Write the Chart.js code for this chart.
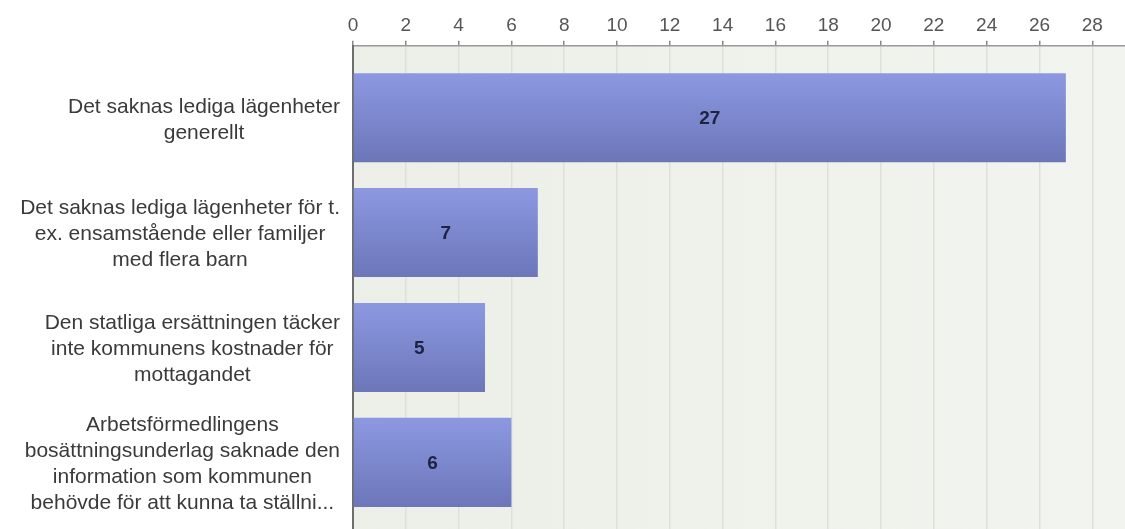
<!DOCTYPE html>
<html>
<head>
<meta charset="utf-8">
<script src="https://cdn.jsdelivr.net/npm/chart.js@4/dist/chart.umd.min.js"></script>
<style>
  html, body { margin: 0; padding: 0; background: #fff; }
  #wrap { width: 1125px; height: 529px; }
</style>
</head>
<body>
<div id="wrap"><canvas id="chart"></canvas></div>
<script>
const labels = [
  ["Det saknas lediga lägenheter", "generellt"],
  ["Det saknas lediga lägenheter för t.", "ex. ensamstående eller familjer", "med flera barn"],
  ["Den statliga ersättningen täcker", "inte kommunens kostnader för", "mottagandet"],
  ["Arbetsförmedlingens", "bosättningsunderlag saknade den", "information som kommunen", "behövde för att kunna ta ställni..."]
]
const values = [27, 7, 5, 6]
const xTicks = [0, 2, 4, 6, 8, 10, 12, 14, 16, 18, 20, 22, 24, 26, 28]

const FONT = '"Liberation Sans", Arial, sans-serif'

// plot background
const bgPlugin = {
  id: 'plotBg',
  beforeDraw(chart) {
    const { ctx, chartArea: a } = chart
    const g = ctx.createLinearGradient(a.left, 0, a.right, 0)
    g.addColorStop(0, '#ebefe7')
    g.addColorStop(1, '#f2f5ef')
    ctx.save()
    ctx.fillStyle = g
    ctx.fillRect(a.left, a.top, a.right - a.left, a.bottom - a.top)
    ctx.restore()
  }
}

// category labels: block right aligned, lines centred
const catLabels = {
  id: 'catLabels',
  afterDraw(chart) {
    const { ctx } = chart
    const y = chart.scales.y
    const right = 340
    const lh = 26
    ctx.save()
    ctx.font = '21px ' + FONT
    ctx.fillStyle = '#3a3a3a'
    ctx.textAlign = 'center'
    ctx.textBaseline = 'middle'
    labels.forEach((lines, i) => {
      const w = Math.max(...lines.map(l => ctx.measureText(l).width))
      const cx = right - w / 2
      const cy = y.getPixelForValue(i)
      const top = cy - (lines.length - 1) * lh / 2
      lines.forEach((l, j) => ctx.fillText(l, cx, top + j * lh + 2))
    })
    ctx.restore()
  }
}

// value in the middle of each bar
const valueLabels = {
  id: 'valueLabels',
  afterDatasetsDraw(chart) {
    const { ctx } = chart
    const meta = chart.getDatasetMeta(0)
    ctx.save()
    ctx.font = 'bold 19px ' + FONT
    ctx.fillStyle = '#1e2340'
    ctx.textAlign = 'center'
    ctx.textBaseline = 'middle'
    meta.data.forEach((bar, i) => {
      const p = bar.getCenterPoint()
      ctx.fillText(String(values[i]), p.x, p.y + 1)
    })
    ctx.restore()
  }
}

function barFill(c) {
  const chart = c.chart
  const ys = chart.scales.y
  if (!ys || !chart.chartArea || c.dataIndex === undefined) return '#7e8ad0'
  const mid = ys.getPixelForValue(c.dataIndex)
  const g = chart.ctx.createLinearGradient(0, mid - 45, 0, mid + 45)
  g.addColorStop(0, '#8c99e1')
  g.addColorStop(1, '#6c76b9')
  return g
}

new Chart(document.getElementById('chart'), {
  type: 'bar',
  data: {
    datasets: [{
      data: values.map((v, i) => ({ x: v, y: i })),
      backgroundColor: barFill,
      borderWidth: 0,
      categoryPercentage: 1,
      barPercentage: 0.775
    }]
  },
  plugins: [bgPlugin, catLabels, valueLabels],
  options: {
    indexAxis: 'y',
    responsive: true,
    maintainAspectRatio: false,
    animation: false,
    layout: { padding: { top: 10, left: 0, right: 0, bottom: 0 } },
    plugins: {
      legend: { display: false },
      tooltip: { enabled: false }
    },
    scales: {
      x: {
        type: 'linear',
        position: 'top',
        min: 0,
        max: 29.24,
        afterBuildTicks: s => { s.ticks = xTicks.map(v => ({ value: v })) },
        ticks: {
          font: { family: FONT, size: 19 },
          color: '#555',
          padding: 4,
          maxRotation: 0
        },
        grid: {
          color: '#dde1d9',
          lineWidth: 1.5,
          tickLength: 5,
          tickColor: '#888'
        },
        border: { color: '#999', width: 1.5 }
      },
      y: {
        type: 'linear',
        reverse: true,
        offset: false,
        min: -0.626,
        max: 3.58,
        afterBuildTicks: s => { s.ticks = labels.map((l, i) => ({ value: i })) },
        afterFit: s => { s.width = 353 },
        ticks: { display: false },
        grid: { display: false, offset: false },
        border: { color: '#6e6e6e', width: 2 }
      }
    }
  }
})
</script>
</body>
</html>
